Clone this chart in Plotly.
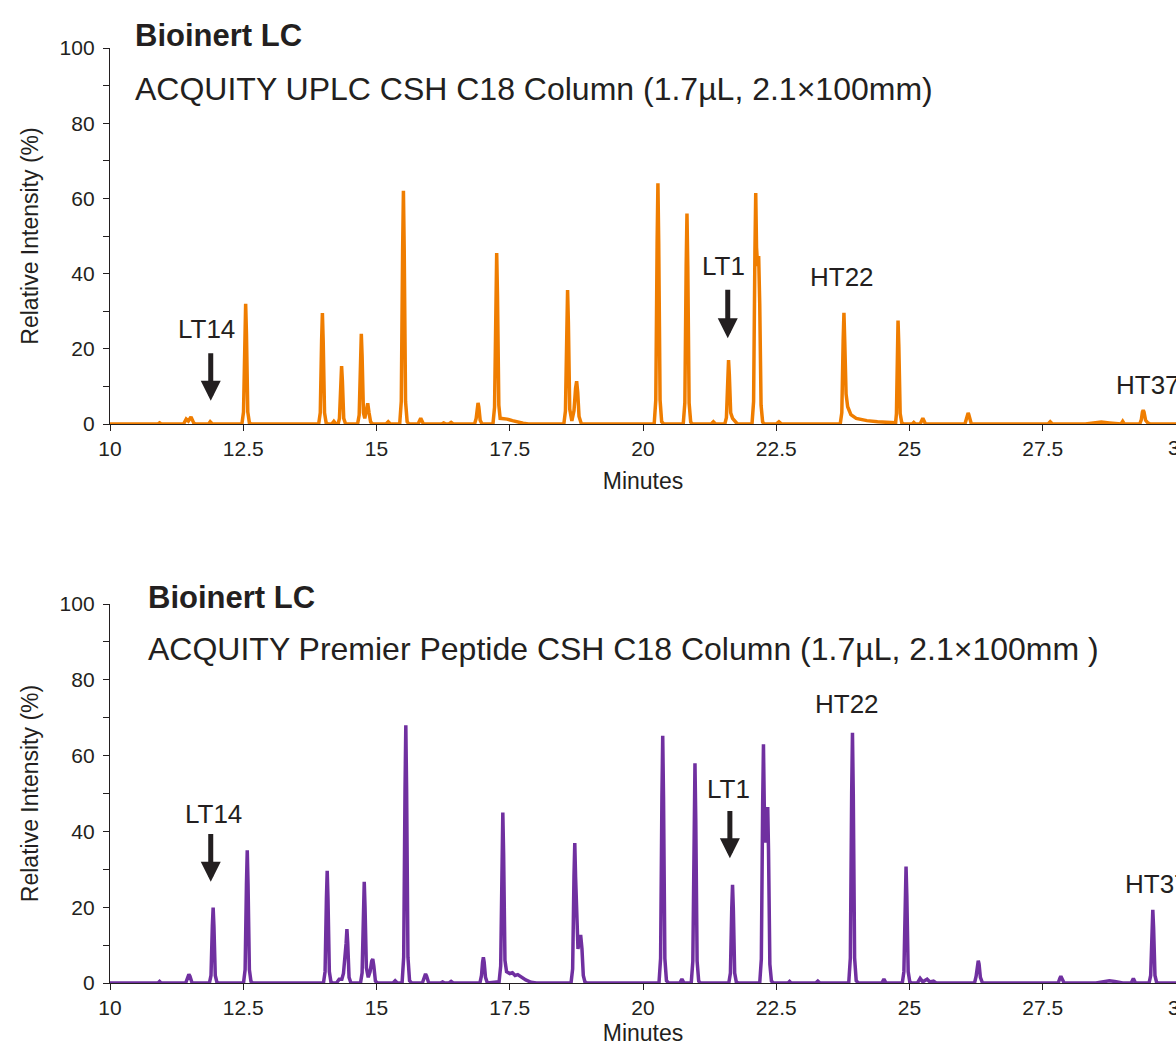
import plotly.graph_objects as go

# ---------------- data ----------------
top_points = [
    (10.0, 0), (10.9, 0), (10.93, 0.3), (10.96, 0),
    (11.38, 0), (11.43, 1.3), (11.47, 0.8), (11.52, 1.9), (11.57, 0.3), (11.6, 0),
    (11.85, 0), (11.88, 0.6), (11.92, 0),
    (12.475, 0), (12.505, 3.2), (12.53, 24), (12.545, 32), (12.56, 24), (12.585, 3.2), (12.615, 0.3), (12.65, 0),
    (13.915, 0), (13.945, 3), (13.97, 22), (13.985, 29.5), (14.0, 22), (14.025, 3), (14.055, 0.3), (14.09, 0),
    (14.16, 0), (14.2, 0.7), (14.24, 0),
    (14.28, 0), (14.305, 1.5), (14.33, 11.5), (14.345, 15.4), (14.36, 11.5), (14.385, 1.5), (14.42, 0),
    (14.645, 0), (14.675, 2.4), (14.7, 18), (14.715, 24), (14.73, 18), (14.755, 3), (14.78, 1.5),
    (14.805, 3.5), (14.835, 5.5), (14.86, 3), (14.89, 0.5), (14.93, 0),
    (15.18, 0), (15.22, 0.6), (15.26, 0),
    (15.435, 0), (15.465, 6), (15.49, 46), (15.505, 62), (15.52, 46), (15.545, 6), (15.575, 0.6), (15.61, 0),
    (15.78, 0), (15.83, 1.5), (15.88, 0),
    (16.22, 0), (16.26, 0.3), (16.3, 0), (16.36, 0), (16.4, 0.4), (16.44, 0),
    (16.84, 0), (16.87, 1.5), (16.89, 4.5), (16.905, 5.6), (16.92, 4.5), (16.945, 1), (16.98, 0),
    (17.185, 0), (17.215, 4.5), (17.24, 34), (17.255, 45.5), (17.27, 34), (17.295, 5), (17.32, 1.5),
    (17.38, 1.5), (17.45, 1.3), (17.55, 0.9), (17.65, 0.5), (17.75, 0.2), (17.85, 0),
    (18.515, 0), (18.545, 3.5), (18.57, 27), (18.585, 35.6), (18.6, 27), (18.625, 4), (18.665, 0.8),
    (18.705, 3.5), (18.735, 9.5), (18.755, 11.4), (18.775, 8.5), (18.8, 2), (18.84, 0.2), (18.87, 0),
    (20.21, 0), (20.24, 6.4), (20.265, 48), (20.28, 64), (20.295, 48), (20.32, 6.4), (20.35, 0.6), (20.39, 0),
    (20.755, 0), (20.785, 5.6), (20.81, 42), (20.825, 56), (20.84, 42), (20.865, 5.6), (20.895, 0.5), (20.93, 0),
    (21.28, 0), (21.32, 0.6), (21.36, 0),
    (21.535, 0), (21.565, 1.7), (21.59, 12.8), (21.605, 17), (21.62, 13), (21.645, 3), (21.68, 1.5), (21.72, 0.8), (21.77, 0),
    (22.045, 0), (22.075, 6), (22.1, 46), (22.115, 61.4), (22.13, 47), (22.15, 42), (22.17, 44.7),
    (22.19, 32), (22.215, 5), (22.245, 0.5), (22.28, 0),
    (22.5, 0), (22.55, 0.6), (22.6, 0),
    (23.7, 0), (23.73, 3), (23.755, 22), (23.77, 29.6), (23.785, 22), (23.81, 8), (23.84, 4.6),
    (23.9, 2.5), (24.0, 1.5), (24.2, 0.9), (24.4, 0.6), (24.6, 0.4), (24.71, 0.3),
    (24.74, 0.3), (24.755, 2.8), (24.77, 20.6), (24.785, 27.5), (24.8, 20.6), (24.825, 2.8), (24.855, 0.3), (24.89, 0),
    (25.05, 0), (25.08, 0.4), (25.11, 0),
    (25.2, 0), (25.25, 1.5), (25.3, 0),
    (26.04, 0), (26.07, 1.5), (26.09, 2.6), (26.1, 2.9), (26.11, 2.6), (26.13, 1.5), (26.16, 0),
    (27.6, 0), (27.64, 0.6), (27.68, 0),
    (28.3, 0), (28.45, 0.3), (28.6, 0.5), (28.75, 0.3), (28.9, 0),
    (28.97, 0), (29.0, 0.7), (29.03, 0),
    (29.32, 0), (29.35, 1.2), (29.37, 3.2), (29.385, 3.7), (29.4, 3.2), (29.43, 1), (29.47, 0.3), (29.52, 0),
    (30.0, 0),
]

bottom_points = [
    (10.0, 0), (10.9, 0), (10.93, 0.4), (10.96, 0),
    (11.42, 0), (11.46, 1.8), (11.48, 2.3), (11.5, 1.8), (11.54, 0),
    (11.865, 0), (11.895, 2), (11.92, 15), (11.935, 19.9), (11.95, 15), (11.975, 2), (12.005, 0.2), (12.04, 0),
    (12.505, 0), (12.535, 3.5), (12.56, 26), (12.575, 35), (12.59, 26), (12.615, 3.5), (12.645, 0.4), (12.68, 0),
    (14.005, 0), (14.035, 3), (14.06, 22), (14.075, 29.6), (14.09, 22), (14.115, 3), (14.145, 0.3), (14.18, 0),
    (14.25, 0), (14.3, 1), (14.35, 1), (14.38, 2.5), (14.43, 10.5), (14.445, 14.2), (14.46, 10.5), (14.485, 1.5), (14.52, 0),
    (14.7, 0), (14.73, 2.7), (14.755, 20), (14.77, 26.7), (14.785, 20), (14.81, 4), (14.845, 1.5),
    (14.88, 3), (14.91, 5.8), (14.93, 6.3), (14.95, 4.5), (14.98, 0.5), (15.02, 0),
    (15.31, 0), (15.35, 0.6), (15.39, 0),
    (15.48, 0), (15.51, 6.8), (15.535, 51), (15.55, 68), (15.565, 51), (15.59, 6.8), (15.62, 0.6), (15.66, 0),
    (15.86, 0), (15.9, 1.8), (15.92, 2.4), (15.94, 1.8), (15.98, 0),
    (16.2, 0), (16.24, 0.3), (16.28, 0), (16.36, 0), (16.4, 0.4), (16.44, 0),
    (16.94, 0), (16.97, 2), (16.99, 5.5), (17.005, 6.8), (17.02, 5.5), (17.045, 1.5), (17.08, 0),
    (17.3, 0.3), (17.33, 4.5), (17.355, 34), (17.37, 45), (17.385, 34), (17.41, 6), (17.44, 3),
    (17.5, 2.5), (17.55, 2.7), (17.6, 2), (17.65, 2.2), (17.72, 1.5), (17.8, 0.8), (17.9, 0.2), (18.0, 0),
    (18.65, 0), (18.68, 3.7), (18.705, 28), (18.72, 36.9), (18.735, 28), (18.76, 12), (18.78, 9),
    (18.8, 11), (18.83, 12.7), (18.855, 9), (18.88, 2), (18.91, 0.3), (18.95, 0),
    (20.3, 0), (20.33, 6.5), (20.355, 49), (20.37, 65.2), (20.385, 49), (20.41, 6.5), (20.44, 0.6), (20.48, 0),
    (20.69, 0), (20.73, 1), (20.77, 0),
    (20.905, 0), (20.935, 5.8), (20.96, 43), (20.975, 58), (20.99, 43), (21.015, 5.8), (21.045, 0.5), (21.08, 0),
    (21.61, 0), (21.64, 2.6), (21.665, 19.5), (21.68, 25.9), (21.695, 19.5), (21.72, 2.6), (21.75, 0.3), (21.79, 0),
    (22.19, 0), (22.22, 6.3), (22.245, 47), (22.26, 63), (22.275, 47), (22.3, 37), (22.32, 44),
    (22.34, 46.4), (22.355, 35), (22.38, 5), (22.41, 0.5), (22.45, 0),
    (22.72, 0), (22.75, 0.4), (22.78, 0),
    (23.24, 0), (23.28, 0.5), (23.32, 0),
    (23.86, 0), (23.89, 6.6), (23.915, 50), (23.93, 66), (23.945, 50), (23.97, 6.6), (24.0, 0.6), (24.04, 0),
    (24.48, 0), (24.52, 1), (24.56, 0),
    (24.865, 0), (24.895, 3), (24.92, 23), (24.935, 30.7), (24.95, 23), (24.975, 3), (25.005, 0.3), (25.04, 0),
    (25.15, 0), (25.2, 1.2), (25.25, 0.3), (25.33, 1), (25.38, 0.3), (25.45, 0.5), (25.5, 0),
    (26.22, 0), (26.25, 1.8), (26.275, 5), (26.29, 5.9), (26.305, 5), (26.33, 1.5), (26.37, 0),
    (27.79, 0), (27.82, 1.2), (27.84, 1.8), (27.86, 1.2), (27.9, 0),
    (28.5, 0), (28.65, 0.4), (28.75, 0.6), (28.85, 0.4), (29.0, 0),
    (29.16, 0), (29.2, 1.2), (29.24, 0),
    (29.495, 0), (29.525, 2), (29.55, 14.5), (29.565, 19.3), (29.58, 14.5), (29.605, 2), (29.635, 0.2), (29.67, 0),
    (30.0, 0),
]

top_minutes = [p[0] for p in top_points]
top_intensity = [p[1] for p in top_points]
bottom_minutes = [p[0] for p in bottom_points]
bottom_intensity = [p[1] for p in bottom_points]

x_tickvals = [10, 12.5, 15, 17.5, 20, 22.5, 25, 27.5, 30]
x_ticktext = ["10", "12.5", "15", "17.5", "20", "22.5", "25", "27.5", "30"]
y_tickvals = [0, 20, 40, 60, 80, 100]

top_title = "Bioinert LC"
top_subtitle = "ACQUITY UPLC CSH C18 Column (1.7µL, 2.1×100mm)"
bottom_title = "Bioinert LC"
bottom_subtitle = "ACQUITY Premier Peptide CSH C18 Column (1.7µL, 2.1×100mm )"

# ---------------- figure ----------------
FONT = "Liberation Sans, Arial, Helvetica, sans-serif"
TXT = "#231F20"
ORANGE = "#EF7D00"
PURPLE = "#7030A0"
W, H, L = 1176, 1046, 110
PW = W - L

fig = go.Figure()
fig.add_trace(go.Scatter(x=top_minutes, y=top_intensity, mode="lines",
                         line=dict(color=ORANGE, width=3.5), cliponaxis=False,
                         xaxis="x", yaxis="y", showlegend=False, hoverinfo="skip"))
fig.add_trace(go.Scatter(x=bottom_minutes, y=bottom_intensity, mode="lines",
                         line=dict(color=PURPLE, width=3.5), cliponaxis=False,
                         xaxis="x2", yaxis="y2", showlegend=False, hoverinfo="skip"))

def xaxis_cfg(anchor):
    return dict(
        anchor=anchor, domain=[0, 1], range=[10, 30], automargin=False,
        tickvals=x_tickvals, ticktext=x_ticktext,
        ticks="outside", ticklen=6, tickwidth=1.3, tickcolor=TXT,
        showline=True, linecolor=TXT, linewidth=1.3,
        showgrid=False, zeroline=False,
        tickfont=dict(family=FONT, size=21, color=TXT),
        title=dict(text="Minutes", font=dict(family=FONT, size=23, color=TXT), standoff=13),
    )

def yaxis_cfg(anchor, domain):
    return dict(
        anchor=anchor, domain=domain, range=[0, 100], automargin=False,
        tickvals=y_tickvals,
        ticks="outside", ticklen=6, tickwidth=1.3, tickcolor=TXT,
        ticklabelstandoff=4,
        minor=dict(ticks="outside", dtick=10, ticklen=6, tickwidth=1.3, tickcolor=TXT, showgrid=False),
        showline=True, linecolor=TXT, linewidth=1.3,
        showgrid=False, zeroline=False,
        tickfont=dict(family=FONT, size=21, color=TXT),
        title=dict(text="Relative Intensity (%)", font=dict(family=FONT, size=23, color=TXT), standoff=14),
    )

top_dom = [1 - 424 / H, 1 - 48 / H]
bot_dom = [1 - 983 / H, 1 - 604 / H]

annotations = []

def text_ann(x, y, text, xref, yref, size, bold=False, xanchor="center", yanchor="middle"):
    annotations.append(dict(
        x=x, y=y, xref=xref, yref=yref, text=("<b>%s</b>" % text) if bold else text,
        showarrow=False, xanchor=xanchor, yanchor=yanchor,
        font=dict(family=FONT, size=size, color=TXT)))

def arrow_ann(x, y_tail, y_tip, xref, yref):
    annotations.append(dict(
        x=x, y=y_tip, ax=x, ay=y_tail, xref=xref, yref=yref, axref=xref, ayref=yref,
        text="", showarrow=True, arrowhead=2, arrowsize=0.8, arrowwidth=5, arrowcolor=TXT,
        standoff=0, startstandoff=0))

# titles
text_ann((133 - L) / PW, 1 - 35 / H, top_title, "paper", "paper", 31, bold=True, xanchor="left")
text_ann((133 - L) / PW, 1 - 89 / H, top_subtitle, "paper", "paper", 32, xanchor="left")
text_ann((146 - L) / PW, 1 - 597 / H, bottom_title, "paper", "paper", 31, bold=True, xanchor="left")
text_ann((146 - L) / PW, 1 - 649 / H, bottom_subtitle, "paper", "paper", 32, xanchor="left")

# last x tick label (sits on the right edge, partly cut like in the reference)
text_ann((1179 - L) / PW, 1 - 448 / H, x_ticktext[-1], "paper", "paper", 21)
text_ann((1179 - L) / PW, 1 - 1007 / H, x_ticktext[-1], "paper", "paper", 21)

# peak labels – top
text_ann(11.81, 25.2, "LT14", "x", "y", 26)
arrow_ann(11.89, 19.2, 6.2, "x", "y")
text_ann(21.51, 42, "LT1", "x", "y", 26)
arrow_ann(21.59, 36.1, 22.8, "x", "y")
text_ann(23.74, 39.2, "HT22", "x", "y", 26)
text_ann(28.84, 10.4, "HT37", "x", "y", 26, xanchor="left")

# peak labels – bottom
text_ann(11.95, 44.6, "LT14", "x2", "y2", 26)
arrow_ann(11.89, 39.7, 26.7, "x2", "y2")
text_ann(21.6, 51.2, "LT1", "x2", "y2", 26)
arrow_ann(21.63, 45.8, 32.9, "x2", "y2")
text_ann(23.83, 73.6, "HT22", "x2", "y2", 26)
text_ann(29.0, 26.1, "HT37", "x2", "y2", 26, xanchor="left")

fig.update_layout(
    width=W, height=H,
    margin=dict(l=L, r=0, t=0, b=0),
    paper_bgcolor="white", plot_bgcolor="white",
    xaxis=xaxis_cfg("y"), yaxis=yaxis_cfg("x", top_dom),
    xaxis2=xaxis_cfg("y2"), yaxis2=yaxis_cfg("x2", bot_dom),
    annotations=annotations,
    font=dict(family=FONT, color=TXT),
)

fig.write_html("out.html")
